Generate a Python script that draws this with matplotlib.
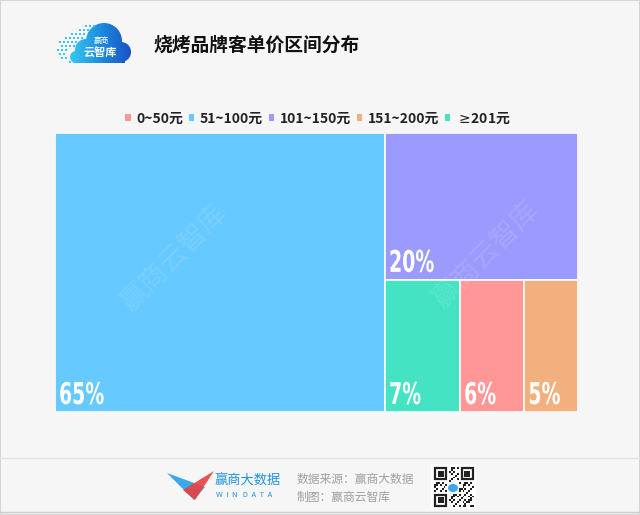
import numpy as np
import matplotlib.pyplot as plt
from matplotlib.patches import Rectangle, Patch, Polygon, Circle, PathPatch
from matplotlib.path import Path
from matplotlib.textpath import TextPath
from matplotlib.font_manager import FontProperties
from matplotlib.transforms import Affine2D, ScaledTranslation
from matplotlib.colors import LinearSegmentedColormap

plt.rcParams['font.family'] = ['Noto Sans CJK SC', 'DejaVu Sans']

# data
categories = ['0~50元', '51~100元', '101~150元', '151~200元', r'$\geq\!$201元']
values = [6, 65, 20, 5, 7]
colors = ['#ff9797', '#66c9ff', '#9b9bff', '#f2b07f', '#43e3c4']

W, H = 640, 515
fig = plt.figure(figsize=(6.4, 5.15), dpi=100)
fig.patch.set_facecolor('#f6f6f6')


def px(x, y):
    # pixel (top-left origin) -> figure fraction
    return x / W, 1 - y / H


# treemap layout: biggest as a column, next as a strip on top, rest in a row
order = sorted(range(len(values)), key=lambda i: -values[i])
total = sum(values)
rects = {}
w0 = values[order[0]] / total
rects[order[0]] = (0, 0, w0, 1)
rest = order[1:]
rest_total = sum(values[i] for i in rest)
h1 = values[rest[0]] / rest_total
rects[rest[0]] = (w0, 1 - h1, 1 - w0, h1)
row = rest[1:]
row_total = sum(values[i] for i in row)
x = w0
for i in row:
    w = (1 - w0) * values[i] / row_total
    rects[i] = (x, 0, w, 1 - h1)
    x += w

l, b = px(55, 412)
ax = fig.add_axes([l, b, 523 / W, 279 / H])
ax.set_xlim(0, 1)
ax.set_ylim(0, 1)
ax.axis('off')

# watermarks
for (wx, wy) in [(175, 258), (487, 255)]:
    fig.text(*px(wx, wy), '赢商云智库', rotation=45, fontsize=20, color='white',
             alpha=0.12, ha='center', va='center', zorder=5)

lab_font = FontProperties(family='DejaVu Sans', weight='bold')
for i, (rx, ry, rw, rh) in rects.items():
    ax.add_patch(Rectangle((rx, ry), rw, rh, facecolor=colors[i],
                           edgecolor='white', linewidth=1.2))
    # condensed label, drawn as a squeezed text path (pixel units)
    tp = TextPath((0, 0), f'{values[i]}%', size=30, prop=lab_font)
    tr = Affine2D().scale(0.63, 1).translate(4, 8) + \
        ScaledTranslation(rx, ry, ax.transData)
    ax.add_patch(PathPatch(tp, transform=tr, facecolor='white',
                           edgecolor='none', zorder=10))

# legend
handles = [Patch(facecolor=c, edgecolor='none') for c in colors]
fig.legend(handles, categories, loc='center', bbox_to_anchor=px(318, 118),
           ncol=5, frameon=False, handlelength=0.4, handleheight=0.4,
           handletextpad=0.4, columnspacing=0.4,
           prop={'size': 10, 'weight': 'bold'}, labelcolor='#222222')

# title
fig.text(*px(153, 45), '烧烤品牌客单价区间分布', fontsize=13.5, fontweight='bold',
         color='#111111', va='center')

# header logo: gradient cloud with dots, drawn in pixel coords
lax = fig.add_axes([55 / W, 1 - 68 / H, 80 / W, 50 / H])
lax.set_xlim(55, 135)
lax.set_ylim(68, 18)
lax.axis('off')
parts = [Path.circle((104, 41), 18), Path.circle((121, 52), 10),
         Path.circle((86, 50), 11), Path.circle((76, 57), 6),
         Path.unit_rectangle().transformed(Affine2D().scale(49, 13).translate(76, 50))]
cloud = Path.make_compound_path(*parts)
cmap = LinearSegmentedColormap.from_list('logo', ['#38d0f2', '#1e8fe0', '#1a4fc4'])
grad = np.linspace(0, 1, 64)[None, :].repeat(8, axis=0)
im = lax.imshow(grad, cmap=cmap, extent=(66, 132, 66, 20), aspect='auto')
clip = PathPatch(cloud, facecolor='none', edgecolor='none', transform=lax.transData)
lax.add_patch(clip)
im.set_clip_path(clip)
dots = [(86, 26), (90, 26), (94, 26), (80, 30), (84, 30), (88, 30),
        (72, 34), (76, 34), (80, 34), (84, 34), (66, 38), (70, 38), (74, 38),
        (78, 38), (82, 38), (60, 42), (64, 42), (68, 42), (72, 42), (76, 42),
        (62, 46), (66, 46), (70, 46), (74, 46), (58, 50), (62, 50), (66, 50),
        (60, 54), (64, 54), (62, 58), (66, 58), (70, 62), (74, 62)]
for (dx, dy) in dots:
    lax.add_patch(Rectangle((dx - 1.3, dy - 1.3), 2.6, 2.6,
                            facecolor='#3cc4ef', edgecolor='none'))
lax.text(101, 41, '赢商', fontsize=5.5, color='white', ha='center', va='center')
lax.text(100, 53, '云智库', fontsize=8, color='white', ha='center',
         va='center', fontweight='bold', style='italic')

# dividers and border
fig.add_artist(plt.Line2D([0, 1], [1 - 458 / H] * 2, color='#e2e2e2', lw=1))
fig.add_artist(plt.Line2D([0, 1], [1 - 512 / H] * 2, color='#cfcfcf', lw=1))
fig.patches.append(Rectangle((0, 0), 1, 1, transform=fig.transFigure,
                             facecolor='none', edgecolor='#d6d6d6', lw=1.5))

# footer logo
fig.patches.append(Polygon([px(167, 473), px(205, 487), px(194, 500)],
                           transform=fig.transFigure, facecolor='#3aa8ea',
                           edgecolor='none'))
fig.patches.append(Polygon([px(214, 471), px(183, 490), px(195, 500)],
                           transform=fig.transFigure, facecolor='#e8403f',
                           edgecolor='none', alpha=0.9))
fig.text(*px(214, 481), '赢商大数据', fontsize=9.5, color='#1f93e0', va='center')
fig.text(*px(216, 495), 'W  I  N   D  A  T  A', fontsize=5.5, color='#1f93e0',
         va='center')

fig.text(*px(297, 479), '数据来源：赢商大数据', fontsize=8.5, color='#a0a0a0', va='center')
fig.text(*px(297, 497), '制图：赢商云智库', fontsize=8.5, color='#a0a0a0', va='center')

# qr code (decorative)
fig.patches.append(Rectangle(px(431, 509), 45 / W, 45 / H, transform=fig.transFigure,
                             facecolor='white', edgecolor='none'))
m = 1.9
x0, y0 = 434, 467
for r in range(21):
    for c in range(21):
        in_finder = (r < 8 and c < 8) or (r < 8 and c > 12) or (r > 12 and c < 8)
        if in_finder:
            continue
        if (r * c + r + 2 * c) % 3 == 0 or (r + c) % 5 == 0:
            fig.patches.append(Rectangle(px(x0 + c * m, y0 + (r + 1) * m), m / W, m / H,
                                         transform=fig.transFigure,
                                         facecolor='#222222', edgecolor='none'))
for (fr, fc) in [(0, 0), (0, 14), (14, 0)]:
    fx, fy = x0 + fc * m, y0 + fr * m
    fig.patches.append(Rectangle(px(fx + 0.5 * m, fy + 6.5 * m), 6 * m / W, 6 * m / H,
                                 transform=fig.transFigure, facecolor='none',
                                 edgecolor='#222222', lw=1.6))
    fig.patches.append(Rectangle(px(fx + 2 * m, fy + 5 * m), 3 * m / W, 3 * m / H,
                                 transform=fig.transFigure, facecolor='#222222',
                                 edgecolor='none'))
fig.patches.append(Rectangle(px(447, 494), 12 / W, 12 / H, transform=fig.transFigure,
                             facecolor='white', edgecolor='none'))
fig.patches.append(Circle(px(453, 488), 5 / W, transform=fig.transFigure,
                          facecolor='#3aa8ea', edgecolor='none'))

fig.savefig('out.png', dpi=100, facecolor=fig.get_facecolor())
